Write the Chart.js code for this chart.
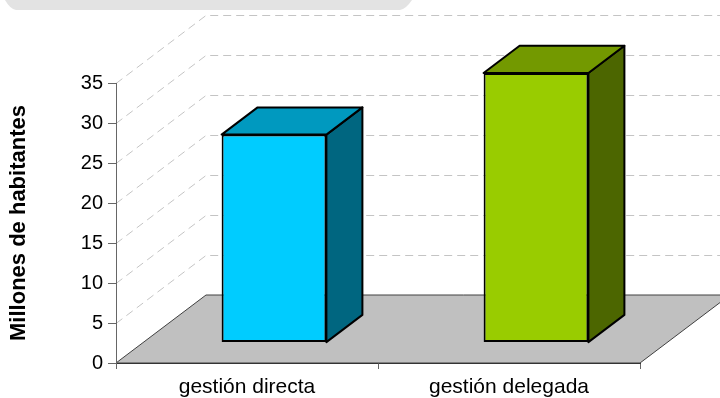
<!DOCTYPE html>
<html>
<head>
<meta charset="utf-8">
<script src="https://cdn.jsdelivr.net/npm/chart.js@4/dist/chart.umd.min.js"></script>
<style>
  html, body { margin: 0; padding: 0; background: #ffffff; }
  #wrap { width: 720px; height: 398px; }
</style>
</head>
<body>
<div id="wrap"><canvas id="c" width="720" height="398"></canvas></div>
<script>
// Población atendida según el modelo de gestión del servicio
const categories = ['gestión directa', 'gestión delegada'];
const habitantes = [26.0, 33.7];
const yMin = 0;
const yMax = 35;
const yStep = 5;
const axisTitle = 'Millones de habitantes';

// Colores de cada barra: frente, tapa y lateral
const frontColors = ['#00CCFF', '#99CC00'];
const topColors = ['#0099BF', '#739900'];
const sideColors = ['#006680', '#4C6600'];

// Proyección oblicua del fondo del gráfico
const DEPTH_X = 90;
const DEPTH_Y = -68;
const BAR_FRONT = 0.3;   // fracción de profundidad donde empieza la barra
const BAR_DEPTH = 0.4;   // fracción de profundidad que ocupa la barra

const FONT = "'Liberation Sans', Arial, sans-serif";

const scene3d = {
  id: 'scene3d',
  beforeDraw(chart) {
    const ctx = chart.ctx;
    const ys = chart.scales.y;
    const left = chart.chartArea.left;
    const right = chart.chartArea.right;
    const y0 = ys.getPixelForValue(yMin);

    ctx.save();
    // pestaña gris superior
    ctx.fillStyle = '#e3e3e3';
    ctx.beginPath();
    ctx.moveTo(5, 0);
    ctx.lineTo(412, 0);
    ctx.quadraticCurveTo(406, 9, 400, 10);
    ctx.lineTo(16, 10);
    ctx.quadraticCurveTo(10, 9, 5, 0);
    ctx.closePath();
    ctx.fill();

    // suelo
    ctx.fillStyle = '#C0C0C0';
    ctx.strokeStyle = '#404040';
    ctx.lineWidth = 1;
    ctx.beginPath();
    ctx.moveTo(left, y0);
    ctx.lineTo(right, y0);
    ctx.lineTo(right + DEPTH_X, y0 + DEPTH_Y);
    ctx.lineTo(left + DEPTH_X, y0 + DEPTH_Y);
    ctx.closePath();
    ctx.fill();
    ctx.stroke();

    // líneas de división en pared lateral y pared de fondo
    ctx.strokeStyle = '#c4c4c4';
    ctx.lineWidth = 1;
    ctx.setLineDash([8, 5]);
    for (let v = yMin + yStep; v <= yMax; v += yStep) {
      const py = Math.round(ys.getPixelForValue(v)) + 0.5;
      ctx.beginPath();
      ctx.moveTo(left, py);
      ctx.lineTo(left + DEPTH_X, py + DEPTH_Y);
      ctx.lineTo(chart.width, py + DEPTH_Y);
      ctx.stroke();
    }
    ctx.restore();
  },
  beforeDatasetsDraw(chart) {
    const ctx = chart.ctx;
    const meta = chart.getDatasetMeta(0);
    const ox = DEPTH_X * BAR_FRONT;
    const oy = DEPTH_Y * BAR_FRONT;
    const dx = DEPTH_X * BAR_DEPTH;
    const dy = DEPTH_Y * BAR_DEPTH;

    ctx.save();
    ctx.strokeStyle = '#000000';
    ctx.lineWidth = 2;
    ctx.lineJoin = 'round';
    meta.data.forEach((bar, i) => {
      const p = bar.getProps(['x', 'y', 'base', 'width'], true);
      const L = p.x - p.width / 2 + ox;
      const R = p.x + p.width / 2 + ox;
      const T = p.y + oy;
      const B = p.base + oy;
      // lateral derecho
      ctx.fillStyle = sideColors[i];
      ctx.beginPath();
      ctx.moveTo(R, T);
      ctx.lineTo(R + dx, T + dy);
      ctx.lineTo(R + dx, B + dy);
      ctx.lineTo(R, B);
      ctx.closePath();
      ctx.fill();
      ctx.stroke();
      // tapa superior
      ctx.fillStyle = topColors[i];
      ctx.beginPath();
      ctx.moveTo(L, T);
      ctx.lineTo(L + dx, T + dy);
      ctx.lineTo(R + dx, T + dy);
      ctx.lineTo(R, T);
      ctx.closePath();
      ctx.fill();
      ctx.stroke();
    });
    ctx.restore();

    // el frente de cada barra lo dibuja Chart.js, desplazado en profundidad
    ctx.save();
    ctx.translate(ox, oy);
  },
  afterDatasetsDraw(chart) {
    chart.ctx.restore();
  }
};

new Chart(document.getElementById('c'), {
  type: 'bar',
  data: {
    labels: categories,
    datasets: [{
      data: habitantes,
      backgroundColor: frontColors,
      borderColor: '#000000',
      borderWidth: 2,
      borderSkipped: false,
      categoryPercentage: 1.0,
      barPercentage: 0.4
    }]
  },
  options: {
    responsive: false,
    animation: false,
    events: [],
    layout: { padding: { top: 83, right: 80, left: 0, bottom: 0 } },
    plugins: {
      legend: { display: false },
      tooltip: { enabled: false },
      title: { display: false }
    },
    scales: {
      x: {
        type: 'category',
        offset: true,
        grid: {
          offset: true,
          drawOnChartArea: false,
          drawTicks: true,
          tickLength: 6,
          color: '#666666',
          lineWidth: 1
        },
        border: { display: true, color: '#333333', width: 1 },
        ticks: {
          color: '#000000',
          padding: 6,
          font: { family: FONT, size: 21 }
        },
        afterFit(scale) { scale.height = 35; }
      },
      y: {
        min: yMin,
        max: yMax,
        grid: {
          drawOnChartArea: false,
          drawTicks: true,
          tickLength: 8,
          color: '#666666',
          lineWidth: 1
        },
        border: { display: true, color: '#666666', width: 1 },
        ticks: {
          stepSize: yStep,
          color: '#000000',
          padding: 5,
          font: { family: FONT, size: 20 }
        },
        title: {
          display: true,
          text: axisTitle,
          color: '#000000',
          padding: { top: 6, bottom: 0 },
          font: { family: FONT, size: 22, weight: 'bold' }
        },
        afterFit(scale) { scale.width = 116; }
      }
    }
  },
  plugins: [scene3d]
});
</script>
</body>
</html>
